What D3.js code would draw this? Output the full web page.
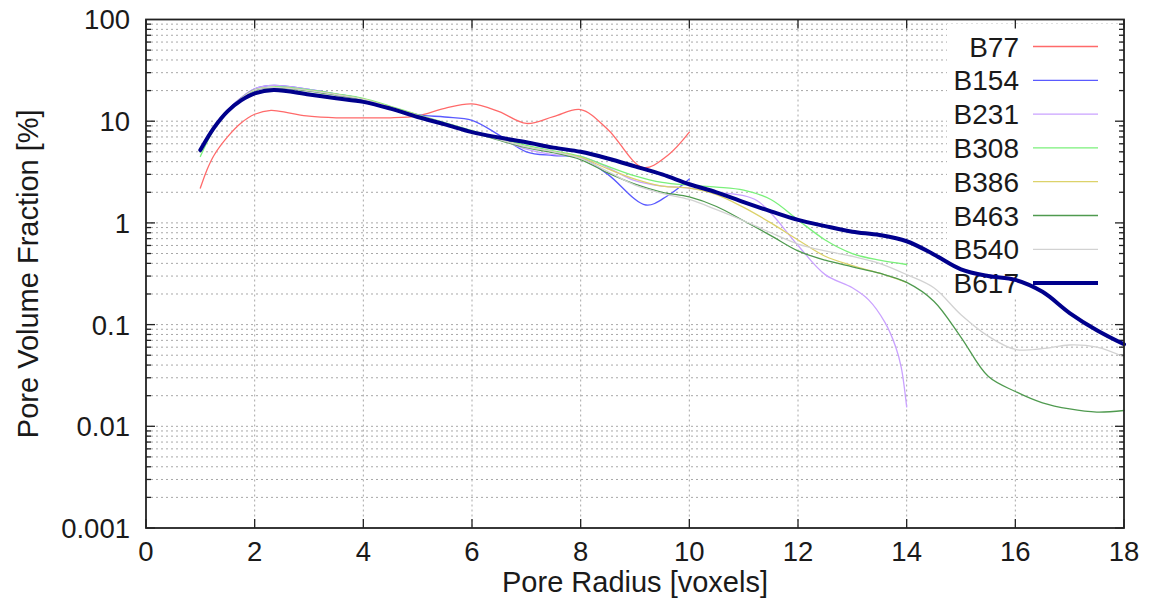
<!DOCTYPE html>
<html><head><meta charset="utf-8">
<script src="https://cdn.jsdelivr.net/npm/d3@7"></script>
<style>
html,body{margin:0;padding:0;background:#fff;}
text{font-family:"Liberation Sans",Arial,Helvetica,sans-serif;fill:#1a1a1a;}
</style></head>
<body><svg id="chart" width="1152" height="603"></svg>
<script>
// ---- data ----
const seriesNames = ["B77","B154","B231","B308","B386","B463","B540","B617"];
const xTicks = [0,2,4,6,8,10,12,14,16,18];
const yTicks = [100,10,1,0.1,0.01,0.001];
const yTickLabels = ["100","10","1","0.1","0.01","0.001"];

const rB77 = [1,1.12,1.25,1.5,1.75,2,2.3,2.65,3,3.5,4,4.5,5,5.5,6,6.5,7,7.5,8,8.5,9.15,9.6,10];
const vB77 = [2.2,3.3,4.6,7.0,9.6,11.7,12.8,12.0,11.2,10.8,10.8,10.8,11.3,13.4,14.8,12.4,9.5,11.1,13.0,8.3,3.5,4.6,7.8];

const rB154 = [1,1.25,1.5,1.75,2,2.35,3,3.5,4,4.5,5,5.5,6,6.5,7,7.5,8,8.5,9.2,9.6,10];
const vB154 = [5.0,8.8,12.8,17.0,20.8,22.5,20.5,18.5,16.5,13.8,11.6,11.0,10.2,7.3,5.0,4.6,4.4,3.0,1.5,1.85,2.7];

const rB231 = [1,1.25,1.5,1.75,2,2.35,3,3.5,4,4.5,5,5.5,6,6.5,7,7.5,8,8.5,9,9.5,10,10.5,11,11.25,11.5,12,12.5,13,13.3,13.6,13.8,13.9,14];
const vB231 = [5.0,8.8,12.8,17.0,20.8,22.5,20.5,18.5,16.5,13.8,11.5,9.6,8.0,6.7,5.3,4.7,4.5,3.5,2.6,2.3,2.2,2.0,1.85,1.65,1.25,0.6,0.31,0.23,0.175,0.105,0.06,0.038,0.0155];

const r14 = [1,1.25,1.5,1.75,2,2.35,3,3.5,4,4.5,5,5.5,6,6.5,7,7.5,8,8.5,9,9.5,10,10.5,11,11.5,12,12.5,13,13.5,14];
const vB308 = [4.5,8.3,12.3,16.5,20.2,21.8,20.3,18.6,16.8,14.0,11.6,9.7,8.1,6.8,5.8,5.1,4.5,3.6,2.9,2.5,2.35,2.25,2.1,1.7,1.07,0.68,0.5,0.43,0.39];
const vB386 = [5.0,8.6,12.5,16.7,20.3,21.5,20.0,18.3,16.5,13.8,11.5,9.5,7.9,6.6,5.6,5.0,4.4,3.4,2.7,2.3,2.2,1.9,1.42,1.0,0.68,0.47,0.38,0.32,0.26];

const r18 = [1,1.25,1.5,1.75,2,2.35,3,3.5,4,4.5,5,5.5,6,6.5,7,7.5,8,8.5,9,9.5,10,10.5,11,11.5,12,12.5,13,13.5,14,14.5,15,15.5,16,16.5,17,17.5,18];
const vB463 = [5.0,8.6,12.5,16.7,20.3,21.3,19.8,18.0,16.2,13.6,11.3,9.4,7.8,6.5,5.5,4.9,4.2,3.1,2.4,2.0,1.8,1.45,1.05,0.75,0.53,0.43,0.37,0.32,0.26,0.17,0.075,0.031,0.022,0.017,0.0148,0.0138,0.0143];
const vB540 = [5.0,8.6,12.5,16.7,20.3,21.5,20.0,18.2,16.4,13.7,11.4,9.5,7.9,6.6,5.6,5.0,4.3,3.2,2.35,1.95,1.7,1.35,1.05,0.8,0.62,0.53,0.47,0.4,0.31,0.23,0.125,0.077,0.057,0.058,0.063,0.06,0.048];
const vB617 = [5.2,8.6,12.5,16.0,18.8,20.3,18.3,16.8,15.5,13.3,11.0,9.3,7.8,6.9,6.2,5.5,5.0,4.3,3.6,3.0,2.4,2.0,1.6,1.3,1.07,0.93,0.82,0.76,0.66,0.49,0.35,0.30,0.275,0.21,0.13,0.088,0.064];

const seriesRadius = [rB77,rB154,rB231,r14,r14,r18,r18,r18];
const seriesValues = [vB77,vB154,vB231,vB308,vB386,vB463,vB540,vB617];
const seriesColors = ["#ff6a6a","#5a5aff","#caa2ff","#7af07a","#dcd26a","#4f9a4f","#d2d2d2","#00008c"];
const seriesWidths = [1.3,1.3,1.3,1.3,1.3,1.3,1.3,4];

// ---- layout ----
const L=146, R=1124, T=19.5, B=528;
const svg = d3.select("#chart");
const x = d3.scaleLinear().domain([0,18]).range([L,R]);
const y = d3.scaleLog().domain([0.001,100]).range([B,T]);

// grid
const minorVals = [];
for (let e=-3;e<2;e++) for (let m=1;m<10;m++) minorVals.push(m*Math.pow(10,e));
const grid = svg.append("g");
grid.selectAll("line.hy").data(minorVals.filter(v=>v>0.001 && v<100)).enter().append("line")
  .attr("x1",L).attr("x2",R).attr("y1",d=>y(d)).attr("y2",d=>y(d))
  .attr("stroke","#a8a8a8").attr("stroke-width",1).attr("stroke-dasharray","2,3");
grid.selectAll("line.vx").data(xTicks.filter(v=>v>0 && v<18)).enter().append("line")
  .attr("x1",d=>x(d)).attr("x2",d=>x(d)).attr("y1",T).attr("y2",B)
  .attr("stroke","#a8a8a8").attr("stroke-width",1).attr("stroke-dasharray","2,3");

// legend background (opaque key)
svg.append("rect").attr("x",947).attr("y",24).attr("width",172).attr("height",275).attr("fill","#fff");

// ticks
const tk = svg.append("g").attr("stroke","#222").attr("stroke-width",1.3);
minorVals.forEach(v=>{
  const major = Math.abs(Math.log10(v)-Math.round(Math.log10(v)))<1e-9;
  const len = major?9:5;
  tk.append("line").attr("x1",L).attr("x2",L+len).attr("y1",y(v)).attr("y2",y(v));
  tk.append("line").attr("x1",R).attr("x2",R-len).attr("y1",y(v)).attr("y2",y(v));
});
xTicks.forEach(v=>{
  tk.append("line").attr("x1",x(v)).attr("x2",x(v)).attr("y1",B).attr("y2",B-9);
  tk.append("line").attr("x1",x(v)).attr("x2",x(v)).attr("y1",T).attr("y2",T+9);
});

// tick labels
svg.selectAll("text.yt").data(yTicks).enter().append("text")
  .attr("x",130).attr("y",d=>y(d)).attr("dy","0.36em").attr("text-anchor","end")
  .attr("font-size",27.5).text((d,i)=>yTickLabels[i]);
svg.selectAll("text.xt").data(xTicks).enter().append("text")
  .attr("x",d=>x(d)).attr("y",561).attr("text-anchor","middle")
  .attr("font-size",27.5).text(d=>d);

// axis titles
svg.append("text").attr("x",(L+R)/2).attr("y",592).attr("text-anchor","middle")
  .attr("font-size",29).text("Pore Radius [voxels]");
svg.append("text").attr("transform",`translate(38,${(T+B)/2}) rotate(-90)`)
  .attr("text-anchor","middle").attr("font-size",29).text("Pore Volume Fraction [%]");

// legend
const leg = svg.append("g");
seriesNames.forEach((n,i)=>{
  const cy = 46.5 + i*33.8;
  leg.append("text").attr("x",1019).attr("y",cy).attr("dy","0.36em").attr("text-anchor","end")
    .attr("font-size",28).text(n);
  leg.append("line").attr("x1",1033).attr("x2",1098).attr("y1",cy).attr("y2",cy)
    .attr("stroke",seriesColors[i]).attr("stroke-width",seriesWidths[i]);
});

// series lines
const line = d3.line().x(d=>x(d[0])).y(d=>y(d[1])).curve(d3.curveCatmullRom.alpha(0.5));
seriesNames.forEach((n,i)=>{
  const pts = seriesRadius[i].map((r,j)=>[r,seriesValues[i][j]]);
  svg.append("path").datum(pts).attr("d",line).attr("fill","none")
    .attr("stroke",seriesColors[i]).attr("stroke-width",seriesWidths[i])
    .attr("stroke-linejoin","round").attr("stroke-linecap","round");
});

// frame
svg.append("rect").attr("x",L).attr("y",T).attr("width",R-L).attr("height",B-T)
  .attr("fill","none").attr("stroke","#222").attr("stroke-width",1.8);
</script></body></html>
